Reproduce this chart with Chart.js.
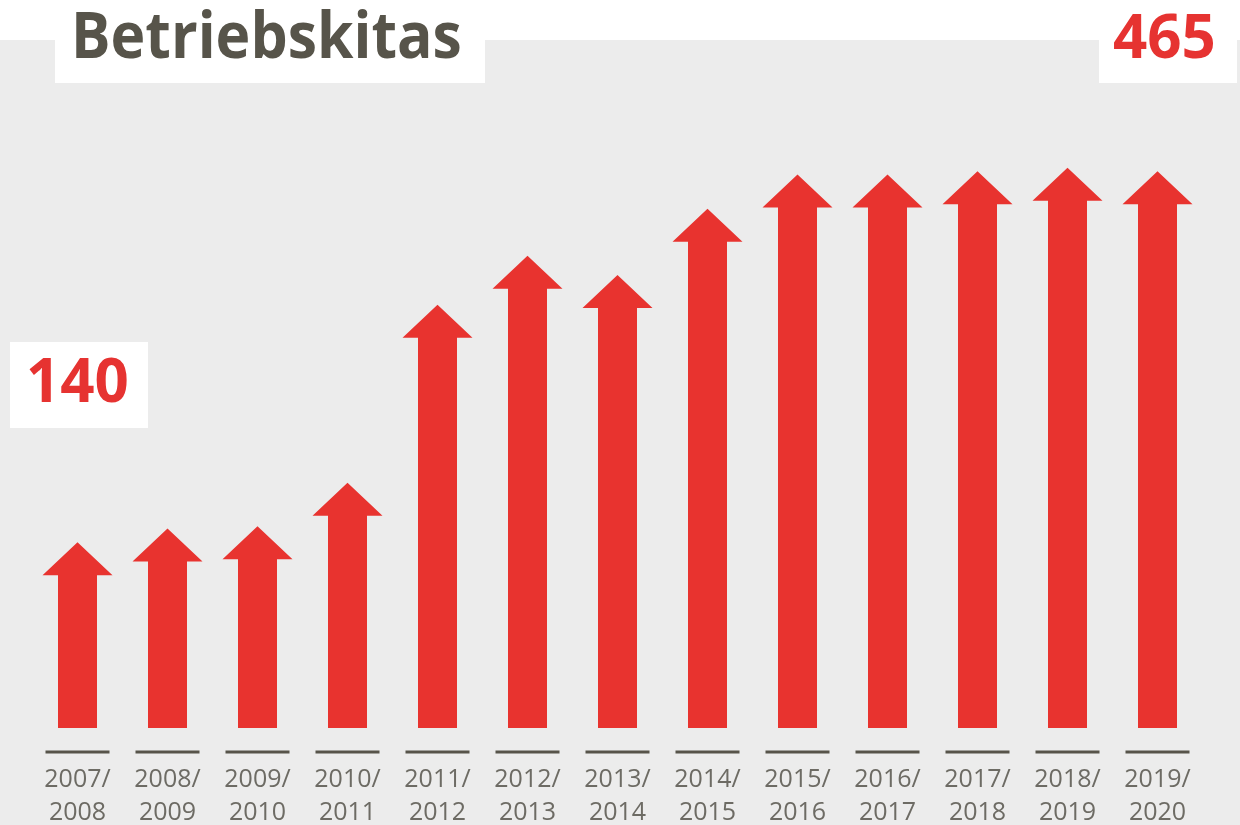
<!DOCTYPE html>
<html>
<head>
<meta charset="utf-8">
<script src="https://cdn.jsdelivr.net/npm/chart.js@4"></script>
<style>
  html, body { margin: 0; padding: 0; width: 1240px; height: 825px; overflow: hidden; background: #fff; }
  #bg { position: absolute; left: 0; top: 40px; width: 1240px; height: 785px; background: #ececec; }
  #wrap { position: absolute; left: 0; top: 0; width: 1240px; }
  .box { position: absolute; background: #fff; font-family: "Open Sans", sans-serif; font-weight: 700; }
  #title { left: 55px; top: 0; width: 430px; height: 83px; color: #57544a; font-size: 64px; line-height: 83px; }
  #title span { position: absolute; left: 16px; top: -8px; white-space: nowrap; transform: scaleX(0.92); transform-origin: left center; }
  .num { color: #e63331; font-size: 60px; line-height: 83px; }
  .num span { position: absolute; top: -6px; }
  #endVal { left: 1099px; top: 0; width: 138px; height: 83px; }
  #startVal { left: 10px; top: 342px; width: 138px; height: 86px; }
</style>
</head>
<body>
<div id="bg"></div>
<div id="wrap"><canvas id="chart" width="1240" height="865"></canvas></div>
<div class="box" id="title"><span>Betriebskitas</span></div>
<div class="box num" id="endVal"><span style="left:14px">465</span></div>
<div class="box num" id="startVal"><span style="left:16px;top:-4px">140</span></div>
<script>
// Kita-Jahre und Anzahl der Betriebskitas
const years = [
  ['2007/', '2008'], ['2008/', '2009'], ['2009/', '2010'], ['2010/', '2011'],
  ['2011/', '2012'], ['2012/', '2013'], ['2013/', '2014'], ['2014/', '2015'],
  ['2015/', '2016'], ['2016/', '2017'], ['2017/', '2018'], ['2018/', '2019'],
  ['2019/', '2020']
];
const kitas = [140, 152, 154, 192, 348, 391, 374, 432, 462, 462, 465, 468, 465];

const Y_MIN = -22.7;
const Y_MAX = 600;

const RED = '#e8332f';
const DARK = '#57544a';

// Pfeile statt Balken zeichnen (Schaft + Spitze)
const arrowPlugin = {
  id: 'arrows',
  afterDatasetsDraw(chart) {
    const ctx = chart.ctx;
    const meta = chart.getDatasetMeta(0);
    ctx.save();
    ctx.fillStyle = RED;
    meta.data.forEach(bar => {
      const half = bar.width / 2;
      const headW = 35;   // halbe Breite der Spitze
      const headH = 33;
      const x = bar.x, top = bar.y, base = bar.base;
      ctx.beginPath();
      ctx.moveTo(x, top);
      ctx.lineTo(x + headW, top + headH);
      ctx.lineTo(x + half, top + headH);
      ctx.lineTo(x + half, base);
      ctx.lineTo(x - half, base);
      ctx.lineTo(x - half, top + headH);
      ctx.lineTo(x - headW, top + headH);
      ctx.closePath();
      ctx.fill();
    });
    // Striche unter jedem Jahr
    const xs = chart.scales.x;
    ctx.strokeStyle = DARK;
    ctx.lineWidth = 3;
    const y = chart.chartArea.bottom + 24;
    years.forEach((_, i) => {
      const cx = xs.getPixelForValue(i);
      ctx.beginPath();
      ctx.moveTo(cx - 32, y);
      ctx.lineTo(cx + 32, y);
      ctx.stroke();
    });
    ctx.restore();
  }
};

const ctx = document.getElementById('chart').getContext('2d');
new Chart(ctx, {
  type: 'bar',
  data: {
    labels: years,
    datasets: [{
      data: kitas.map(v => [Y_MIN, v]),
      backgroundColor: 'rgba(0,0,0,0)',
      barThickness: 39
    }]
  },
  options: {
    responsive: false,
    animation: false,
    layout: { padding: { top: 17, left: 32.5, right: 37.5, bottom: 0 } },
    plugins: { legend: { display: false }, tooltip: { enabled: false } },
    scales: {
      x: {
        grid: { display: false, drawTicks: false },
        border: { display: false },
        ticks: {
          color: '#6d6b64',
          padding: 35.5,
          maxRotation: 0,
          autoSkip: false,
          font: { family: "'Open Sans', sans-serif", size: 25, lineHeight: 1.32 }
        }
      },
      y: { display: false, min: Y_MIN, max: Y_MAX }
    }
  },
  plugins: [arrowPlugin]
});
</script>
</body>
</html>
